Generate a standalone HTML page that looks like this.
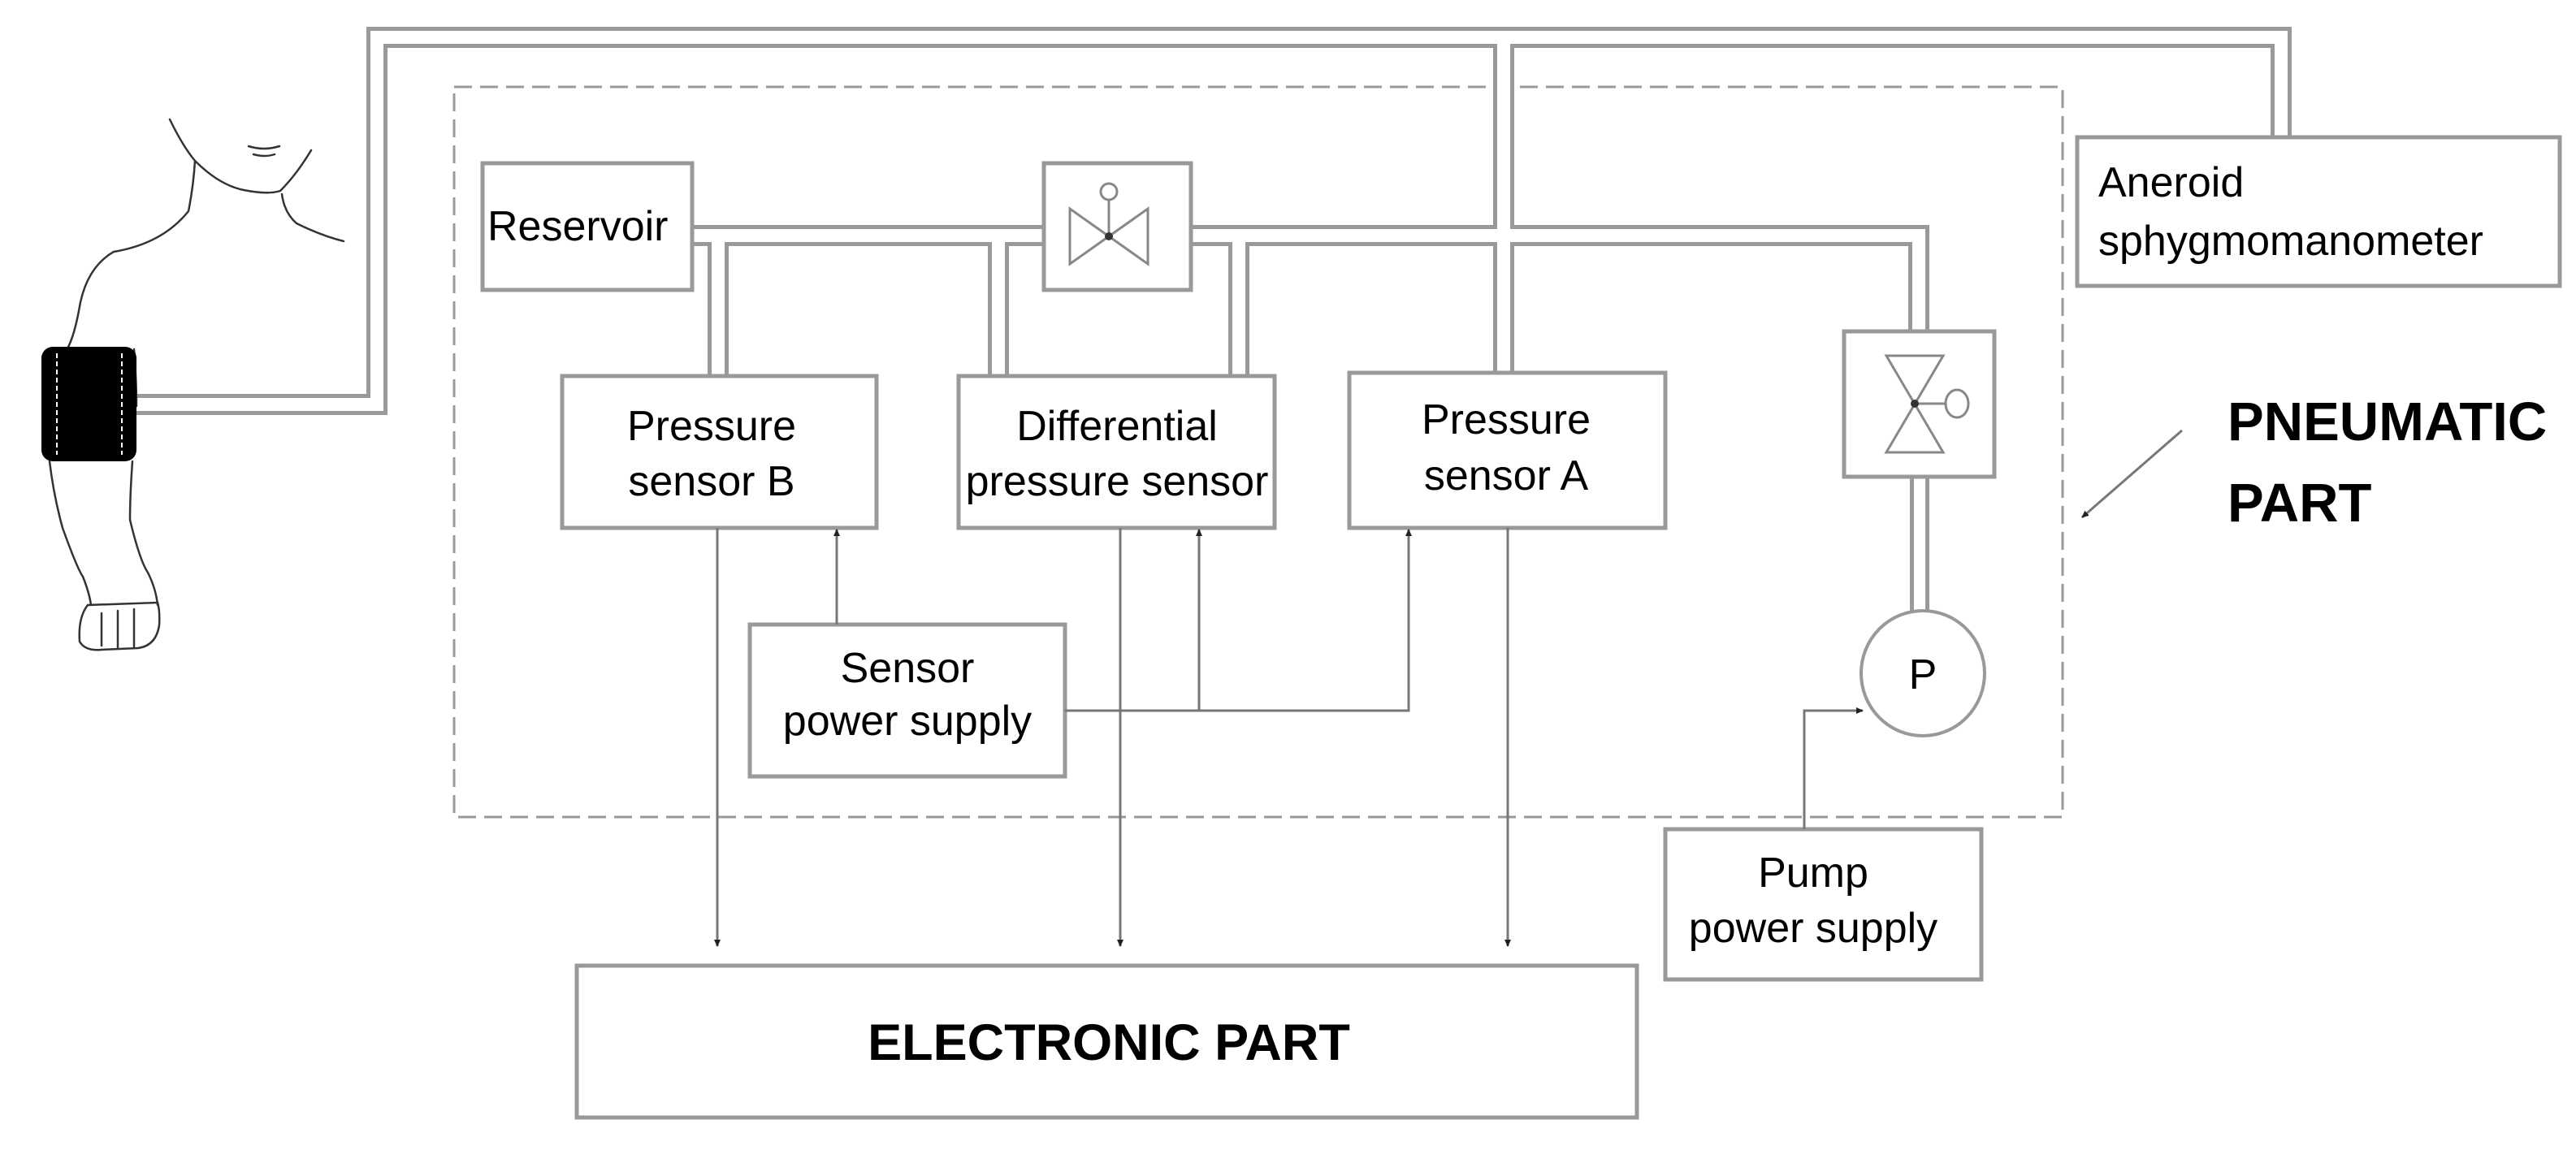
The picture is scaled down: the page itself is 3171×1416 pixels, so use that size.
<!DOCTYPE html>
<html><head><meta charset="utf-8"><style>
html,body{margin:0;padding:0;background:#fff;}
svg{display:block;}
text{font-family:"Liberation Sans",sans-serif;fill:#000;}
</style></head><body>
<svg width="3171" height="1416" viewBox="0 0 3171 1416" xmlns="http://www.w3.org/2000/svg">
<rect width="3171" height="1416" fill="#fff"/>
<defs>
<marker id="ah" markerWidth="10" markerHeight="10" refX="8" refY="5" orient="auto" markerUnits="userSpaceOnUse"><path d="M0,1 L9,5 L0,9 Z" fill="#222"/></marker>
</defs>
<rect x="559" y="107" width="1980" height="899" fill="none" stroke="#999" stroke-width="3" stroke-dasharray="22,10"/>

<g fill="none" stroke="#999" stroke-width="26" stroke-linejoin="miter" stroke-linecap="butt">
<path d="M168,498 H464 V46 H2808 V170"/>
<path d="M1851,46 V460"/>
<path d="M852,290 H1286"/>
<path d="M1466,290 H2362 V409"/>
<path d="M884,290 V464"/>
<path d="M1229,290 V464"/>
<path d="M1525,290 V464"/>
<path d="M2363,587 V755" stroke-width="24"/>
</g>
<g fill="none" stroke="#fff" stroke-width="16" stroke-linejoin="miter" stroke-linecap="butt">
<path d="M160,498 H464 V46 H2808 V176"/>
<path d="M1851,46 V466"/>
<path d="M846,290 H1292"/>
<path d="M1460,290 H2362 V415"/>
<path d="M884,290 V470"/>
<path d="M1229,290 V470"/>
<path d="M1525,290 V470"/>
<path d="M2363,581 V760" stroke-width="14"/>
</g>

<g fill="#fff" stroke="#999" stroke-width="5">
<rect x="594" y="201" width="258" height="156"/>
<rect x="1285" y="201" width="181" height="156"/>
<rect x="692" y="463" width="387" height="187"/>
<rect x="1180" y="463" width="389" height="187"/>
<rect x="1661" y="459" width="389" height="191"/>
<rect x="923" y="769" width="388" height="187"/>
<rect x="2270" y="408" width="185" height="179"/>
<rect x="2557" y="169" width="594" height="183"/>
<rect x="710" y="1189" width="1305" height="187"/>
<rect x="2050" y="1021" width="389" height="185"/>
</g>
<ellipse cx="2367" cy="829" rx="76" ry="77" fill="#fff" stroke="#999" stroke-width="4"/>

<g fill="none" stroke="#888" stroke-width="3">
<path d="M1317,257 L1317,325 L1413,257 L1413,325 Z"/>
<line x1="1365" y1="291" x2="1365" y2="245"/>
<circle cx="1365" cy="236" r="10"/>
</g>
<circle cx="1365" cy="291" r="5" fill="#333"/>
<g fill="none" stroke="#888" stroke-width="3">
<path d="M2322,438 L2392,438 L2322,557 L2392,557 Z"/>
<line x1="2357" y1="497" x2="2395" y2="497"/>
<ellipse cx="2409" cy="497" rx="14" ry="17"/>
</g>
<circle cx="2357" cy="497" r="5" fill="#333"/>

<g fill="none" stroke="#777" stroke-width="3">
<path d="M883,650 V1165" marker-end="url(#ah)"/>
<path d="M1379,650 V1165" marker-end="url(#ah)"/>
<path d="M1856,650 V1165" marker-end="url(#ah)"/>
<path d="M1030,769 V652" marker-end="url(#ah)"/>
<path d="M1311,875 H1734 V652" marker-end="url(#ah)"/>
<path d="M1476,875 V652" marker-end="url(#ah)"/>
<path d="M2221,1021 V875 H2293" marker-end="url(#ah)"/>
<path d="M2686,530 L2563,637" marker-end="url(#ah)"/>
</g>

<g fill="none" stroke="#333" stroke-width="2.5" stroke-linecap="round">
<path d="M209,147 Q225,180 240,198 Q238,230 232,260 Q200,300 140,310 Q105,330 97,383 Q90,420 80,434"/>
<path d="M240,198 Q270,228 300,234 Q330,240 345,235 Q365,215 383,185"/>
<path d="M347,239 Q350,262 365,275 Q395,290 423,297"/>
<path d="M306,180 Q325,186 344,180"/>
<path d="M312,190 Q326,194 338,190"/>
<path d="M165,430 Q168,470 168,500"/>
<path d="M61,568 Q66,610 77,650 Q95,700 102,710 Q110,730 112,745"/>
<path d="M163,568 Q160,610 160,640 Q172,690 182,705 Q192,725 194,745"/>
<path d="M108,745 Q96,760 98,790 Q105,802 125,800 L170,798 Q192,795 196,770 Q197,752 194,742 Z"/>
<path d="M125,755 L125,795 M145,752 L145,797 M165,750 L165,796"/>
</g>
<rect x="51" y="427" width="117" height="141" rx="14" fill="#000"/>
<line x1="70" y1="435" x2="70" y2="560" stroke="#fff" stroke-width="2" stroke-dasharray="6,4"/>
<line x1="150" y1="435" x2="150" y2="560" stroke="#fff" stroke-width="2" stroke-dasharray="6,4"/>

<g font-size="52">
<text x="600" y="296">Reservoir</text>
<text x="876" y="542" text-anchor="middle">Pressure</text>
<text x="876" y="610" text-anchor="middle">sensor B</text>
<text x="1375" y="542" text-anchor="middle">Differential</text>
<text x="1375" y="610" text-anchor="middle">pressure sensor</text>
<text x="1854" y="534" text-anchor="middle">Pressure</text>
<text x="1854" y="603" text-anchor="middle">sensor A</text>
<text x="1117" y="840" text-anchor="middle">Sensor</text>
<text x="1117" y="905" text-anchor="middle">power supply</text>
<text x="2583" y="242">Aneroid</text>
<text x="2583" y="314">sphygmomanometer</text>
<text x="2232" y="1092" text-anchor="middle">Pump</text>
<text x="2232" y="1160" text-anchor="middle">power supply</text>
<text x="2367" y="848" text-anchor="middle">P</text>
</g>
<g font-weight="bold">
<text x="2742" y="542" font-size="67">PNEUMATIC</text>
<text x="2742" y="642" font-size="67">PART</text>
<text x="1365" y="1305" text-anchor="middle" font-size="63">ELECTRONIC PART</text>
</g>
</svg>
</body></html>
